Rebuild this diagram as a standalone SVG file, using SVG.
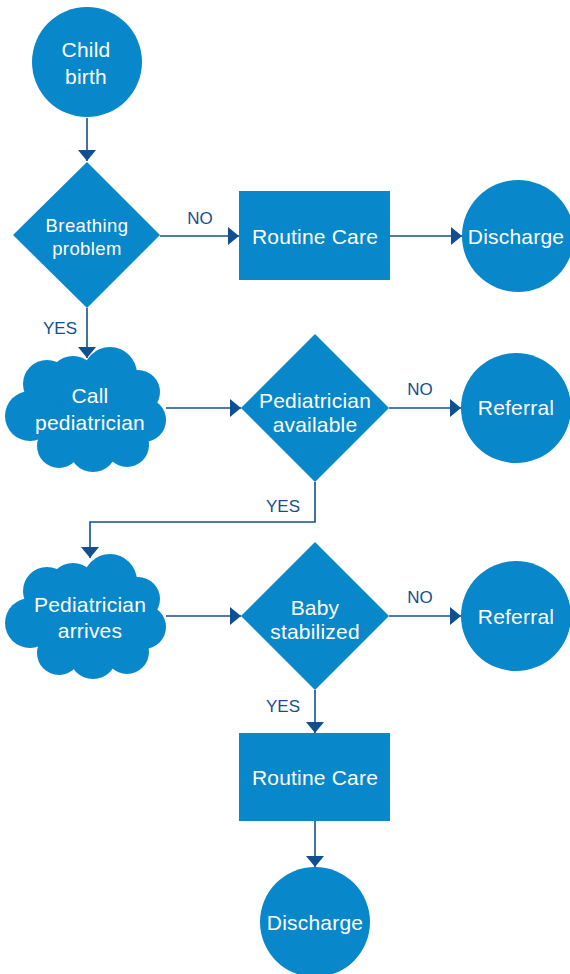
<svg xmlns="http://www.w3.org/2000/svg" xmlns:xlink="http://www.w3.org/1999/xlink" width="570" height="974" viewBox="0 0 570 974">
<style>
.n{fill:#0887ca}
.t{fill:#fff;font-family:"Liberation Sans",Arial,sans-serif;font-size:21px;letter-spacing:0.2px;text-anchor:middle}
.s{font-size:18.5px;letter-spacing:0.4px}
.c{fill:none;stroke:#124f92;stroke-width:1.6}
.l{fill:#124f92;font-family:"Liberation Sans",Arial,sans-serif;font-size:17px;text-anchor:middle}
</style>
<defs>
<marker id="ah" markerUnits="userSpaceOnUse" markerWidth="12" markerHeight="18" refX="11" refY="9" orient="auto">
<path d="M0,0 L11,9 L0,18 Z" fill="#124f92"/>
</marker>
<g id="cloud">
<ellipse cx="0" cy="0" rx="60" ry="44"/>
<circle cx="-40" cy="-26" r="24"/>
<circle cx="-14" cy="-30" r="24"/>
<circle cx="23" cy="-36" r="27"/>
<circle cx="51" cy="-18" r="22"/>
<circle cx="57" cy="10" r="22"/>
<circle cx="40" cy="35" r="22"/>
<circle cx="6" cy="38" r="24"/>
<circle cx="-28" cy="36" r="22"/>
<circle cx="-57" cy="6" r="25"/>
</g>
</defs>
<g id="connectors">
<path class="c" d="M87,118 V161" marker-end="url(#ah)"/>
<path class="c" d="M160,236 H239" marker-end="url(#ah)"/>
<path class="c" d="M390,236 H462" marker-end="url(#ah)"/>
<path class="c" d="M87,308 V358" marker-end="url(#ah)"/>
<path class="c" d="M166,408 H241" marker-end="url(#ah)"/>
<path class="c" d="M389,408 H461" marker-end="url(#ah)"/>
<path class="c" d="M315,482 V522 H90 V558" marker-end="url(#ah)"/>
<path class="c" d="M166,616 H241" marker-end="url(#ah)"/>
<path class="c" d="M389,616 H461" marker-end="url(#ah)"/>
<path class="c" d="M315,690 V733" marker-end="url(#ah)"/>
<path class="c" d="M315,821 V867" marker-end="url(#ah)"/>
<text class="l" x="200" y="224">NO</text>
<text class="l" x="60" y="334">YES</text>
<text class="l" x="420" y="395">NO</text>
<text class="l" x="283" y="512">YES</text>
<text class="l" x="420" y="603">NO</text>
<text class="l" x="283" y="712">YES</text>
</g>
<g id="child-birth">
<circle class="n" cx="87" cy="62" r="55"/>
<text class="t" x="86" y="57">Child</text>
<text class="t" x="86" y="84">birth</text>
</g>
<g id="breathing-problem">
<polygon class="n" points="87,162 160,235 87,308 13,235"/>
<text class="t s" x="87" y="232">Breathing</text>
<text class="t s" x="87" y="255">problem</text>
</g>
<g id="routine-care-1">
<rect class="n" x="239" y="191" width="151" height="89"/>
<text class="t" x="315" y="244">Routine Care</text>
</g>
<g id="discharge-1">
<circle class="n" cx="518" cy="236" r="56"/>
<text class="t" x="516" y="244">Discharge</text>
</g>
<g id="call-pediatrician">
<use xlink:href="#cloud" href="#cloud" class="n" transform="translate(87,410)"/>
<text class="t" x="90" y="403">Call</text>
<text class="t" x="90" y="430">pediatrician</text>
</g>
<g id="pediatrician-available">
<polygon class="n" points="315,334 389,408 315,482 241,408"/>
<text class="t" x="315" y="408">Pediatrician</text>
<text class="t" x="315" y="432">available</text>
</g>
<g id="referral-1">
<circle class="n" cx="516" cy="408" r="55"/>
<text class="t" x="516" y="415">Referral</text>
</g>
<g id="pediatrician-arrives">
<use xlink:href="#cloud" href="#cloud" class="n" transform="translate(87,617)"/>
<text class="t" x="90" y="612">Pediatrician</text>
<text class="t" x="90" y="638">arrives</text>
</g>
<g id="baby-stabilized">
<polygon class="n" points="315,542 389,616 315,690 241,616"/>
<text class="t" x="315" y="615">Baby</text>
<text class="t" x="315" y="639">stabilized</text>
</g>
<g id="referral-2">
<circle class="n" cx="516" cy="616" r="55"/>
<text class="t" x="516" y="624">Referral</text>
</g>
<g id="routine-care-2">
<rect class="n" x="239" y="733" width="151" height="88"/>
<text class="t" x="315" y="785">Routine Care</text>
</g>
<g id="discharge-2">
<circle class="n" cx="315" cy="922" r="55"/>
<text class="t" x="315" y="930">Discharge</text>
</g>
</svg>
